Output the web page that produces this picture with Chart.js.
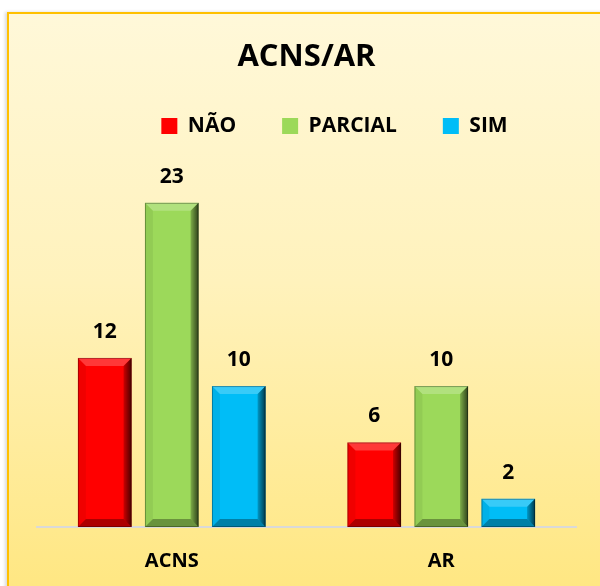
<!DOCTYPE html>
<html><head><meta charset="utf-8">
<script src="https://cdn.jsdelivr.net/npm/chart.js@4.4.0/dist/chart.umd.min.js"></script>
<style>
html,body{margin:0;padding:0;width:600px;height:586px;overflow:hidden;background:#fff;}
#frame{position:absolute;left:7px;top:12px;width:640px;height:600px;border:2px solid #FFC000;box-sizing:border-box;background:linear-gradient(#FFF8D9 0%, #FFF2BC 45%, #FFE67E 100%);box-shadow:-2px 0 3px rgba(0,0,0,0.15);}
canvas{position:absolute;left:0;top:0;}
</style></head><body>
<div id="frame"></div>
<canvas id="c" width="600" height="586"></canvas>
<script>
const categories = ['ACNS', 'AR'];
const seriesNames = ['NÃO', 'PARCIAL', 'SIM'];
const naoValues = [12, 6];
const parcialValues = [23, 10];
const simValues = [10, 2];
const yMax = 27;

const seriesColors = ['#FF0000', '#9CD95A', '#00BDF7'];
const FONT = '"Open Sans"';
const WEIGHT = 'bold';

function poly(ctx, pts, fill) {
  ctx.beginPath();
  ctx.moveTo(pts[0][0], pts[0][1]);
  for (let i = 1; i < pts.length; i++) ctx.lineTo(pts[i][0], pts[i][1]);
  ctx.closePath();
  ctx.fillStyle = fill;
  ctx.fill();
}

const bevelPlugin = {
  id: 'bevel',
  afterDatasetsDraw(chart) {
    const ctx = chart.ctx;
    chart.data.datasets.forEach((ds, i) => {
      const meta = chart.getDatasetMeta(i);
      meta.data.forEach(bar => {
        const p = bar.getProps(['x', 'y', 'base', 'width'], true);
        const l = p.x - p.width / 2, r = p.x + p.width / 2;
        const t = Math.min(p.y, p.base), b = Math.max(p.y, p.base);
        const h = b - t;
        const d = Math.min(8, h / 2);
        ctx.save();
        poly(ctx, [[l, t], [r, t], [r - d, t + d], [l + d, t + d]], 'rgba(255,255,255,0.22)');
        const g = ctx.createLinearGradient(r - d, 0, r, 0);
        g.addColorStop(0, 'rgba(0,0,0,0.2)');
        g.addColorStop(1, 'rgba(0,0,0,0.7)');
        poly(ctx, [[r, t], [r, b], [r - d, b - d], [r - d, t + d]], g);
        poly(ctx, [[l, b], [r, b], [r - d, b - d], [l + d, b - d]], 'rgba(0,0,0,0.32)');
        poly(ctx, [[l, t], [l, b], [l + d, b - d], [l + d, t + d]], 'rgba(0,0,0,0.06)');
        ctx.strokeStyle = 'rgba(0,0,0,0.3)';
        ctx.lineWidth = 1;
        ctx.strokeRect(l + 0.5, t + 0.5, p.width - 1, h - 1);
        ctx.restore();
      });
    });
  }
};

const valueLabelPlugin = {
  id: 'valueLabels',
  afterDatasetsDraw(chart) {
    const ctx = chart.ctx;
    ctx.save();
    ctx.font = WEIGHT + ' 21px ' + FONT;
    ctx.fillStyle = '#000';
    ctx.textAlign = 'center';
    ctx.textBaseline = 'middle';
    chart.data.datasets.forEach((ds, i) => {
      const meta = chart.getDatasetMeta(i);
      meta.data.forEach((bar, j) => {
        ctx.fillText(String(ds.data[j]), bar.x, bar.y - 26);
      });
    });
    ctx.restore();
  }
};

const legendShiftPlugin = {
  id: 'legendShift',
  afterLayout(chart) {
    if (chart.legend) {
      chart.legend.left += 28;
      chart.legend.right += 28;
    }
  }
};

const seriesValues = [naoValues, parcialValues, simValues];

new Chart(document.getElementById('c'), {
  type: 'bar',
  data: {
    labels: categories,
    datasets: seriesNames.map((name, i) => ({
      label: name,
      data: seriesValues[i],
      backgroundColor: seriesColors[i],
      borderWidth: 0,
      categoryPercentage: 0.746,
      barPercentage: 0.8
    }))
  },
  options: {
    responsive: false,
    animation: false,
    devicePixelRatio: 1,
    layout: { padding: { left: 37, right: 24, top: 0, bottom: 0 } },
    plugins: {
      title: {
        display: true,
        text: 'ACNS/AR',
        color: '#000',
        font: { family: FONT, size: 31, weight: WEIGHT, lineHeight: 0.806 },
        padding: { top: 44.5, bottom: 0 }
      },
      legend: {
        display: true,
        position: 'top',
        labels: {
          color: '#000',
          font: { family: FONT, size: 21, weight: WEIGHT },
          boxWidth: 16,
          boxHeight: 16,
          padding: 46
        }
      },
      tooltip: { enabled: false }
    },
    scales: {
      x: {
        grid: { display: false, drawTicks: false },
        border: { display: true, color: '#D9D9D9', width: 2 },
        ticks: { color: '#000', font: { family: FONT, size: 20, weight: WEIGHT }, padding: 22 },
        afterFit(s) { s.height = 59; }
      },
      y: {
        display: false,
        min: 0,
        max: yMax
      }
    }
  },
  plugins: [bevelPlugin, valueLabelPlugin, legendShiftPlugin]
});
</script>
</body></html>
